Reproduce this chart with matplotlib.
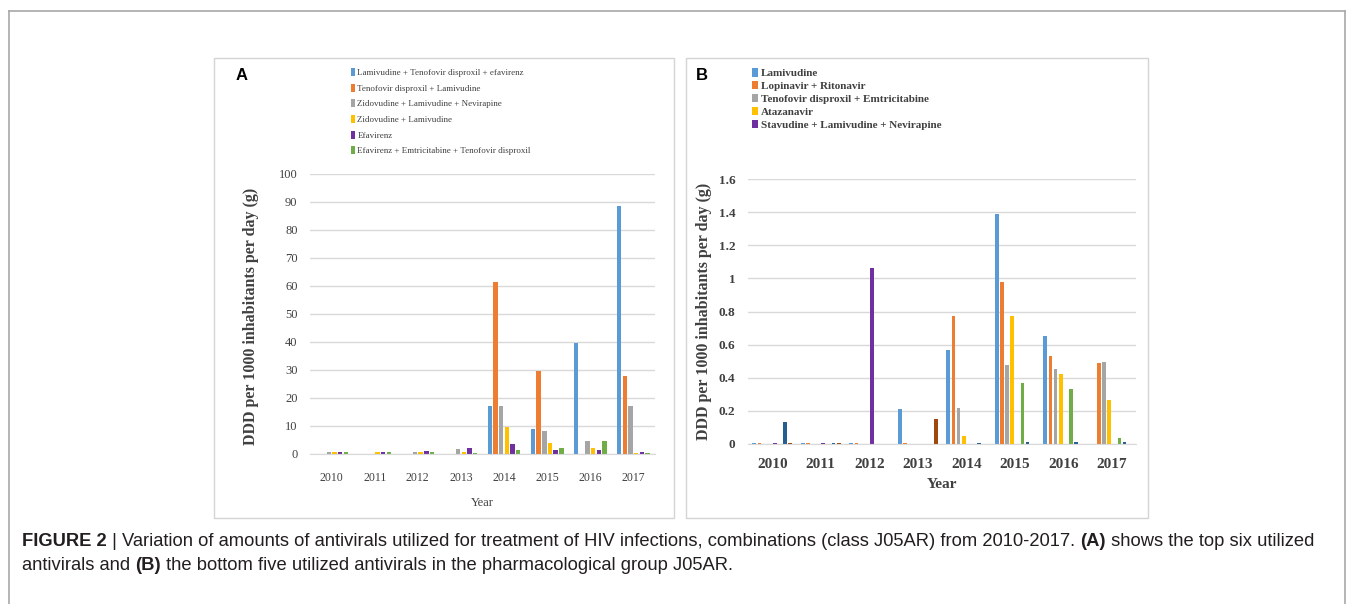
import numpy as np
import matplotlib
matplotlib.use("Agg")
import matplotlib.pyplot as plt
from matplotlib.patches import Rectangle
from matplotlib.lines import Line2D

W, H = 1355, 604

years = ["2010", "2011", "2012", "2013", "2014", "2015", "2016", "2017"]

# panel A - top six antivirals
a_names = ["Lamivudine + Tenofovir disproxil + efavirenz",
           "Tenofovir disproxil + Lamivudine",
           "Zidovudine + Lamivudine + Nevirapine",
           "Zidovudine + Lamivudine",
           "Efavirenz",
           "Efavirenz + Emtricitabine + Tenofovir disproxil"]
a_lam_ten_efa = [0, 0, 0, 0, 17.2, 9.0, 39.7, 88.4]
a_ten_lam = [0, 0, 0, 0, 61.5, 29.7, 0, 27.9]
a_zid_lam_nev = [0.6, 0, 0.6, 1.7, 17.2, 8.2, 4.5, 17.1]
a_zid_lam = [0.6, 0.6, 0.6, 0.6, 9.6, 4.0, 2.2, 0.4]
a_efa = [0.6, 0.6, 0.9, 2.2, 3.7, 1.6, 1.6, 0.7]
a_efa_emt_ten = [0.6, 0.6, 0.6, 0.5, 1.3, 2.2, 4.5, 0.5]
a_series = [a_lam_ten_efa, a_ten_lam, a_zid_lam_nev, a_zid_lam, a_efa, a_efa_emt_ten]

# panel B - bottom five (plus three unlabelled series drawn in the original)
b_names = ["Lamivudine",
           "Lopinavir + Ritonavir",
           "Tenofovir disproxil + Emtricitabine",
           "Atazanavir",
           "Stavudine + Lamivudine + Nevirapine",
           "Series 6", "Series 7", "Series 8"]
b_lam = [0.008, 0.008, 0.008, 0.21, 0.57, 1.39, 0.655, 0]
b_lop_rit = [0.008, 0.008, 0.008, 0.008, 0.775, 0.98, 0.53, 0.49]
b_ten_emt = [0, 0, 0, 0, 0.22, 0.48, 0.455, 0.495]
b_ata = [0, 0, 0, 0, 0.05, 0.77, 0.42, 0.265]
b_sta_lam_nev = [0.008, 0.008, 1.065, 0, 0, 0, 0, 0]
b_s6 = [0, 0, 0, 0, 0, 0.37, 0.33, 0.035]
b_s7 = [0.13, 0.008, 0, 0, 0.008, 0.015, 0.01, 0.015]
b_s8 = [0.008, 0.008, 0, 0.15, 0, 0, 0, 0]
b_series = [b_lam, b_lop_rit, b_ten_emt, b_ata, b_sta_lam_nev, b_s6, b_s7, b_s8]

colors = ["#5B9BD5", "#ED7D31", "#A5A5A5", "#FFC000", "#7030A0",
          "#70AD47", "#255E91", "#9E480E"]

SERIF = "Liberation Serif"
SANS = "Liberation Sans"
GRID = "#D9D9D9"
TXT = "#404040"


def box(x0, y0, x1, y1):
    # pixel box -> figure fraction rect
    return [x0 / W, 1 - y1 / H, (x1 - x0) / W, (y1 - y0) / H]


def style_axes(ax):
    for s in ["top", "right", "left"]:
        ax.spines[s].set_visible(False)
    ax.spines["bottom"].set_color(GRID)
    ax.grid(axis="y", color=GRID, lw=1)
    ax.set_axisbelow(True)
    ax.tick_params(length=0)


fig = plt.figure(figsize=(W / 100, H / 100), dpi=100)

# outer frame and panel frames
fig.add_artist(Line2D([9 / W, 9 / W], [0, 1 - 11 / H], color="#A8A8A8", lw=1.2))
fig.add_artist(Line2D([9 / W, 1345 / W], [1 - 11 / H, 1 - 11 / H], color="#A8A8A8", lw=1.2))
fig.add_artist(Line2D([1345 / W, 1345 / W], [0, 1 - 11 / H], color="#A8A8A8", lw=1.2))
for bx in [box(214, 58, 674, 518), box(686, 58, 1148, 518)]:
    fig.add_artist(Rectangle((bx[0], bx[1]), bx[2], bx[3], transform=fig.transFigure,
                             fill=False, edgecolor="#D4D4D4", lw=1))

x = np.arange(len(years))

# ---- panel A
axA = fig.add_axes(box(310, 174, 655, 454))
slotA = 0.79 / len(a_series)
for i, vals in enumerate(a_series):
    axA.bar(x + (i - (len(a_series) - 1) / 2) * slotA, vals, width=slotA * 0.78,
            color=colors[i], lw=0, label=a_names[i])
style_axes(axA)
axA.set_xlim(-0.5, len(years) - 0.5)
axA.set_ylim(0, 100)
axA.set_yticks(range(0, 101, 10))
axA.set_xticks(x)
axA.set_xticklabels(years, family=SERIF, fontsize=8.5, color=TXT)
for t in axA.get_yticklabels():
    t.set_family(SERIF); t.set_fontsize(9); t.set_color(TXT)
axA.tick_params(axis="y", pad=9)
axA.tick_params(axis="x", pad=13)
axA.set_xlabel("Year", family=SERIF, fontsize=9, color=TXT, labelpad=9)
axA.set_ylabel("DDD per 1000 inhabitants per day (g)", family=SERIF, fontweight="bold",
               fontsize=11.5, color=TXT)
axA.yaxis.set_label_coords(-0.148, 0.49)
axA.legend(loc="upper left", bbox_to_anchor=(351 / W, 1 - 68 / H),
           bbox_transform=fig.transFigure, frameon=False,
           prop={"family": SERIF, "size": 6.5}, labelcolor=TXT,
           handlelength=0.45, handleheight=1.0, handletextpad=0.25,
           labelspacing=0.72, borderpad=0, borderaxespad=0)
fig.text(236 / W, 1 - 75 / H, "A", family=SANS, fontweight="bold", fontsize=12, va="center")

# ---- panel B
axB = fig.add_axes(box(748, 179, 1136, 444))
slotB = 0.845 / len(b_series)
barsB = []
for i, vals in enumerate(b_series):
    b = axB.bar(x + (i - (len(b_series) - 1) / 2) * slotB, vals, width=slotB * 0.75,
                color=colors[i], lw=0, label=b_names[i])
    barsB.append(b)
style_axes(axB)
axB.set_xlim(-0.5, len(years) - 0.5)
axB.set_ylim(0, 1.6)
axB.set_yticks(np.arange(0, 1.61, 0.2))
axB.set_yticklabels(["0", "0.2", "0.4", "0.6", "0.8", "1", "1.2", "1.4", "1.6"],
                    family=SERIF, fontweight="bold", fontsize=9.5, color=TXT)
axB.set_xticks(x)
axB.set_xticklabels(years, family=SERIF, fontweight="bold", fontsize=11, color=TXT)
axB.tick_params(axis="y", pad=9)
axB.tick_params(axis="x", pad=10)
axB.set_xlabel("Year", family=SERIF, fontweight="bold", fontsize=11, color=TXT, labelpad=5)
axB.set_ylabel("DDD per 1000 inhabitants per day (g)", family=SERIF, fontweight="bold",
               fontsize=11.5, color=TXT)
axB.yaxis.set_label_coords(-0.092, 0.5)
axB.legend(barsB[:5], b_names[:5], loc="upper left", bbox_to_anchor=(752 / W, 1 - 68 / H),
           bbox_transform=fig.transFigure, frameon=False,
           prop={"family": SERIF, "weight": "bold", "size": 8}, labelcolor=TXT,
           handlelength=0.5, handleheight=0.8, handletextpad=0.3,
           labelspacing=0.25, borderpad=0, borderaxespad=0)
fig.text(696 / W, 1 - 75 / H, "B", family=SANS, fontweight="bold", fontsize=12, va="center")

# ---- caption with mixed bold runs
renderer = fig.canvas.get_renderer()


def rich_line(x0, y0, parts, size, draw=True):
    xp = x0
    texts = []
    for s, bold in parts:
        t = fig.text(xp / W, 1 - y0 / H, s, family=SANS, fontsize=size,
                     fontweight="bold" if bold else "normal", va="baseline", color="#231F20")
        xp += t.get_window_extent(renderer=renderer).width
        texts.append(t)
    if not draw:
        for t in texts:
            t.remove()
    return xp


line1 = [("FIGURE 2", True),
         (" | Variation of amounts of antivirals utilized for treatment of HIV infections, "
          "combinations (class J05AR) from 2010-2017. ", False),
         ("(A)", True), (" shows the top six utilized", False)]
line2 = [("antivirals and ", False), ("(B)", True),
         (" the bottom five utilized antivirals in the pharmacological group J05AR.", False)]

# pick a caption size so line 1 spans about the same width as in the figure
w10 = rich_line(22, 546, line1, 10, draw=False) - 22
cap_size = 10 * 1300 / w10
rich_line(22, 546, line1, cap_size)
rich_line(22, 570, line2, cap_size)

fig.savefig("out.png", dpi=100)
